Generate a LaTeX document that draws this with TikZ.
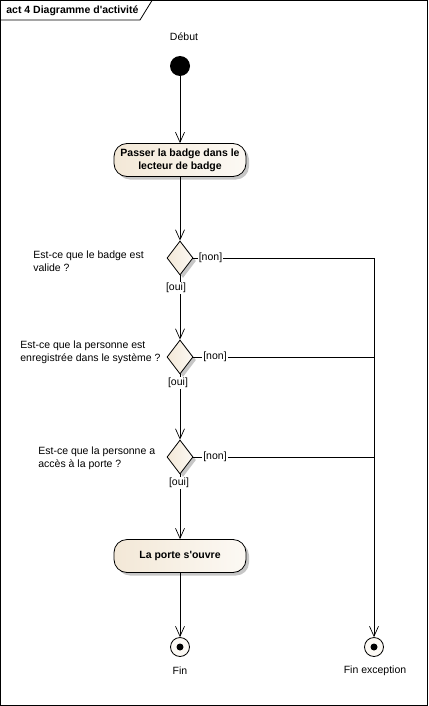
\documentclass[tikz,border=0pt]{standalone}
\usepackage{fontspec}
\setmainfont{Liberation Sans}[Ligatures=TeXOff]
\usetikzlibrary{arrows.meta,shapes.geometric,shadows}
\definecolor{cream}{RGB}{243,232,215}
\definecolor{creamlight}{RGB}{252,249,244}
\begin{document}
\begin{tikzpicture}[x=1pt,y=-1pt,
  font=\fontsize{10.5}{13}\selectfont,
  line width=0.8pt,
  flow/.style={draw, line width=0.8pt, -{Straight Barb[length=10pt,width=9pt,line width=0.7pt]}},
  plainline/.style={draw, line width=0.8pt},
  shadowed/.style={drop shadow={shadow xshift=3pt, shadow yshift=-3pt, opacity=0.45, fill=gray}},
  actbox/.style={draw, line width=0.8pt, rounded corners=13pt, minimum width=132pt, minimum height=33pt,
    left color=cream, right color=creamlight, shadowed, font=\fontsize{10.5}{13}\selectfont\bfseries, align=center, inner sep=2pt},
  decision/.style={draw, diamond, line width=0.8pt, minimum width=26pt, minimum height=34pt, inner sep=0pt,
    left color=cream, right color=creamlight, shadowed},
  guard/.style={fill=white, inner sep=1pt},
  question/.style={anchor=west, align=left, inner sep=0pt},
  endnode/.style={draw, circle, line width=0.8pt, fill=creamlight, minimum size=19pt, inner sep=0pt},
]
\useasboundingbox (0,0) rectangle (428,706);
% frame
\draw[line width=1pt] (0.5,0.5) rectangle (427.5,705.5);
\draw[line width=0.8pt] (0.5,20) -- (140,20) -- (152,0.5);
\node[anchor=west, font=\fontsize{10.5}{13}\selectfont\bfseries, inner sep=0pt] (title) at (6,10.5) {act 4 Diagramme d'activité};

% nodes
\node (debut) at (184,37) {Début};
\node[circle, fill=black, minimum size=20pt, inner sep=0pt] (start) at (180,66) {};
\node[actbox] (act1) at (180,160) {Passer la badge dans le\\lecteur de badge};
\node[decision] (d1) at (180,258) {};
\node[decision] (d2) at (180,357) {};
\node[decision] (d3) at (180,457) {};
\node[actbox] (act2) at (180,556) {La porte s'ouvre};
\node[endnode] (fin) at (180,647) {};
\fill (fin.center) circle (3.5pt);
\node[endnode] (finex) at (374,647) {};
\fill (finex.center) circle (3.5pt);
\node (finlbl) at (180,671) {Fin};
\node (finexlbl) at (375,671) {Fin exception};

\node[question] (q1) at (33,261) {Est-ce que le badge est\\valide ?};
\node[question] (q2) at (20,352.5) {Est-ce que la personne est\\enregistrée dans le système ?};
\node[question] (q3) at (38,458) {Est-ce que la personne a\\accès à la porte ?};

\coordinate (c1) at (374,258);
\coordinate (c2) at (374,357);
\coordinate (c3) at (374,457);

% connectors
\draw[flow] (start) -- (act1);
\draw[flow] (act1) -- (d1);
\draw[flow] (d1) -- (d2);
\draw[flow] (d2) -- (d3);
\draw[flow] (d3) -- (act2);
\draw[flow] (act2) -- (fin);
\draw[flow] (d1.east) -- (c1) -- (finex);
\draw[plainline] (d2.east) -- (c2);
\draw[plainline] (d3.east) -- (c3);

% guards
\node[guard] (n1) at (210.5,258) {[non]};
\node[guard] (n2) at (215,357) {[non]};
\node[guard] (n3) at (215,457) {[non]};
\node[guard] (o1) at (176,288) {[oui]};
\node[guard] (o2) at (178,383) {[oui]};
\node[guard] (o3) at (179,483) {[oui]};
\end{tikzpicture}
\end{document}
